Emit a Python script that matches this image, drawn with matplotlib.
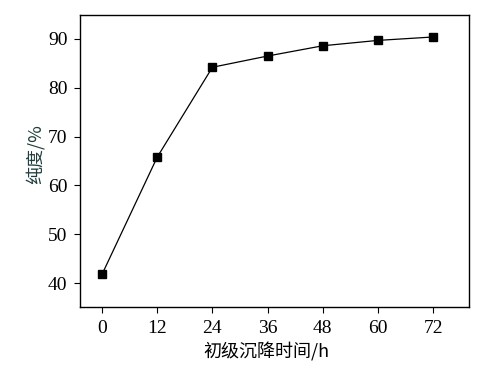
import matplotlib
matplotlib.use('Agg')
import matplotlib.pyplot as plt

hours = [0, 12, 24, 36, 48, 60, 72]
purity = [41.8, 65.8, 84.2, 86.5, 88.6, 89.7, 90.4]
yticks = [40, 50, 60, 70, 80, 90]

cjk = ['Noto Sans CJK SC', 'DejaVu Sans']
num_font = 'Liberation Serif'

fig = plt.figure(figsize=(4.99, 3.66), dpi=100)
ax = fig.add_axes([0.1603, 0.1612, 0.7796, 0.7978])

ax.plot(hours, purity, color='black', linewidth=0.9, marker='s',
        markersize=5.5, markerfacecolor='black', markeredgecolor='black')

ax.set_xlim(-4.8, 79.8)
ax.set_ylim(35.1, 94.9)
ax.set_xticks(hours)
ax.set_yticks(yticks)
ax.tick_params(direction='out', length=4, width=0.8, labelsize=14, pad=5)
for lab in ax.get_xticklabels() + ax.get_yticklabels():
    lab.set_fontfamily(num_font)
for s in ax.spines.values():
    s.set_linewidth(1.0)

ax.set_xlabel('初级沉降时间/h', family=cjk, fontsize=13)
ax.xaxis.set_label_coords(0.479, -0.12)
ax.set_ylabel('纯度/%', family=cjk, fontsize=13, color='#1f3d3d')
ax.yaxis.set_label_coords(-0.09, 0.524)

fig.savefig('out.png', dpi=100)
